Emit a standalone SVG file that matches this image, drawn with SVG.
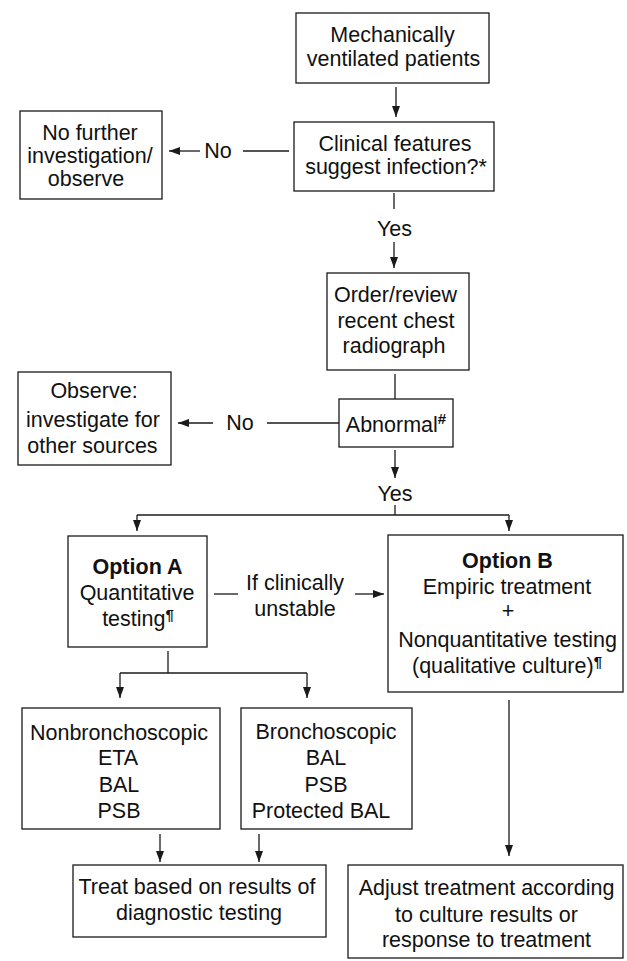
<svg xmlns="http://www.w3.org/2000/svg" width="627" height="961" viewBox="0 0 627 961">
<style>
  .box{fill:#fff;stroke:#1a1a1a;stroke-width:1.3}
  .ln{fill:none;stroke:#1a1a1a;stroke-width:1.3}
  .ar{fill:none;stroke:#1a1a1a;stroke-width:1.3;marker-end:url(#ah)}
  text{font-family:"Liberation Sans",Arial,sans-serif;font-size:21.5px;fill:#111;text-anchor:middle}
  .b{font-weight:bold}
  .sup{font-size:15px;font-weight:bold}
</style>
<defs>
  <marker id="ah" markerUnits="userSpaceOnUse" markerWidth="11" markerHeight="8" viewBox="0 0 11 8" refX="11" refY="4" orient="auto">
    <path d="M0,0 L11,4 L0,8 Z" fill="#1a1a1a"/>
  </marker>
</defs>
<rect width="627" height="961" fill="#fff"/>

<g id="connectors">
  <line class="ar" x1="396" y1="87" x2="396" y2="117"/>
  <line class="ln" x1="243" y1="151" x2="289" y2="151"/>
  <text x="218" y="158">No</text>
  <line class="ar" x1="200" y1="151" x2="169" y2="151"/>
  <line class="ln" x1="394" y1="193" x2="394" y2="209"/>
  <text x="394.5" y="236">Yes</text>
  <line class="ar" x1="394" y1="242" x2="394" y2="268"/>
  <line class="ln" x1="395" y1="374" x2="395" y2="399"/>
  <line class="ln" x1="267" y1="423" x2="339" y2="423"/>
  <text x="240" y="430">No</text>
  <line class="ar" x1="213" y1="423" x2="178" y2="423"/>
  <line class="ar" x1="395" y1="450" x2="395" y2="478"/>
  <text x="395" y="501">Yes</text>
  <line class="ln" x1="395" y1="505" x2="395" y2="515"/>
  <polyline class="ln" points="137,515 509,515"/>
  <line class="ar" x1="137" y1="515" x2="137" y2="531"/>
  <line class="ar" x1="509" y1="515" x2="509" y2="531"/>
  <line class="ln" x1="214" y1="594" x2="238" y2="594"/>
  <text x="295" y="590">If clinically</text>
  <text x="295" y="616">unstable</text>
  <line class="ar" x1="355" y1="594" x2="384" y2="594"/>
  <line class="ln" x1="168" y1="651" x2="168" y2="673"/>
  <line class="ln" x1="120" y1="673" x2="307" y2="673"/>
  <line class="ar" x1="120" y1="673" x2="120" y2="698"/>
  <line class="ar" x1="307" y1="673" x2="307" y2="698"/>
  <line class="ar" x1="160" y1="834" x2="160" y2="862"/>
  <line class="ar" x1="259" y1="834" x2="259" y2="862"/>
  <line class="ar" x1="509" y1="700" x2="509" y2="856"/>
</g>

<g id="n-ventilated">
  <rect class="box" x="296" y="13" width="193" height="70"/>
  <text x="392.5" y="42">Mechanically</text>
  <text x="393.5" y="66">ventilated patients</text>
</g>

<g id="n-clinical">
  <rect class="box" x="294" y="122" width="200" height="69"/>
  <text x="395" y="151">Clinical features</text>
  <text x="396" y="174">suggest infection?*</text>
</g>

<g id="n-nofurther">
  <rect class="box" x="20" y="111" width="142" height="88"/>
  <text x="90" y="140">No further</text>
  <text x="90" y="163">investigation/</text>
  <text x="86" y="186">observe</text>
</g>

<g id="n-radiograph">
  <rect class="box" x="327" y="273" width="142" height="97"/>
  <text x="395.5" y="302">Order/review</text>
  <text x="396" y="328">recent chest</text>
  <text x="394" y="353">radiograph</text>
</g>

<g id="n-abnormal">
  <rect class="box" x="339" y="399" width="114" height="48"/>
  <text x="396" y="432">Abnormal<tspan class="sup" dy="-8">#</tspan></text>
</g>

<g id="n-observe">
  <rect class="box" x="18" y="372" width="153" height="93"/>
  <text x="94" y="398">Observe:</text>
  <text x="93" y="427">investigate for</text>
  <text x="92.5" y="453">other sources</text>
</g>

<g id="n-optionA">
  <rect class="box" x="68" y="536" width="139" height="111"/>
  <text class="b" x="137.5" y="574">Option A</text>
  <text x="137" y="600">Quantitative</text>
  <text x="138" y="626">testing<tspan class="sup" dy="-6">¶</tspan></text>
</g>

<g id="n-optionB">
  <rect class="box" x="388" y="535" width="235" height="157"/>
  <text class="b" x="507.5" y="568">Option B</text>
  <text x="507" y="594">Empiric treatment</text>
  <text x="508" y="618">+</text>
  <text x="507.5" y="647">Nonquantitative testing</text>
  <text x="507" y="673">(qualitative culture)<tspan class="sup" dy="-6">¶</tspan></text>
</g>

<g id="n-nonbronch">
  <rect class="box" x="22" y="708" width="198" height="121"/>
  <text x="119" y="740">Nonbronchoscopic</text>
  <text x="118" y="765">ETA</text>
  <text x="119" y="792">BAL</text>
  <text x="119" y="818">PSB</text>
</g>

<g id="n-bronch">
  <rect class="box" x="241" y="708" width="171" height="121"/>
  <text x="326" y="739">Bronchoscopic</text>
  <text x="326" y="765">BAL</text>
  <text x="326" y="792">PSB</text>
  <text x="321" y="818">Protected BAL</text>
</g>

<g id="n-treat">
  <rect class="box" x="73" y="865" width="253" height="72"/>
  <text x="197" y="894">Treat based on results of</text>
  <text x="199" y="920">diagnostic testing</text>
</g>

<g id="n-adjust">
  <rect class="box" x="348" y="865" width="275" height="93"/>
  <text x="486.5" y="895">Adjust treatment according</text>
  <text x="486.5" y="922">to culture results or</text>
  <text x="486.5" y="947">response to treatment</text>
</g>
</svg>
